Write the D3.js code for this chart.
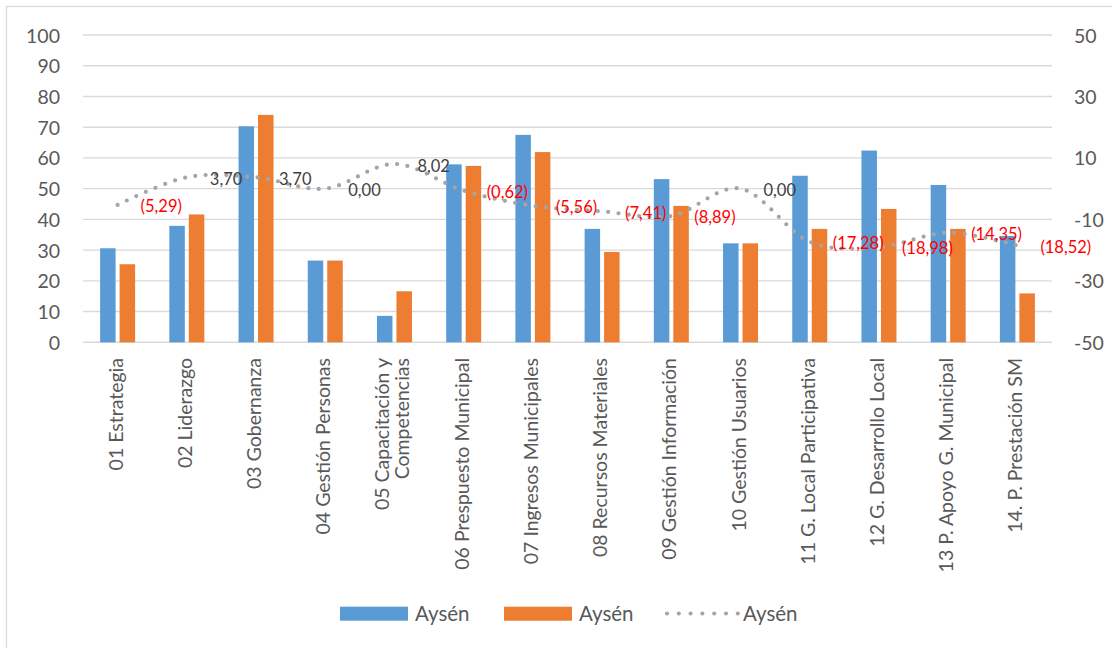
<!DOCTYPE html>
<html>
<head>
<meta charset="utf-8">
<script src="https://cdn.jsdelivr.net/npm/d3@7/dist/d3.min.js"></script>
<style>
  html, body { margin: 0; padding: 0; background: #ffffff; }
  svg { display: block; }
  text { font-family: Lato, "Open Sans", sans-serif; }
</style>
</head>
<body>
<svg id="chart" width="1112" height="648"></svg>
<script>
// Categories (area names) shown along the bottom axis
const categories = [
  "01 Estrategia",
  "02 Liderazgo",
  "03 Gobernanza",
  "04 Gestión Personas",
  "05 Capacitación y\nCompetencias",
  "06 Prespuesto Municipal",
  "07 Ingresos Municipales",
  "08 Recursos Materiales",
  "09 Gestión Información",
  "10 Gestión Usuarios",
  "11 G. Local Participativa",
  "12 G. Desarrollo Local",
  "13 P. Apoyo G. Municipal",
  "14. P. Prestación SM"
];

// First bar series (left axis)
const seriesBlue = [30.6, 37.9, 70.3, 26.6, 8.6, 57.9, 67.5, 36.9, 53.1, 32.2, 54.2, 62.4, 51.2, 34.6];
// Second bar series (left axis)
const seriesOrange = [25.4, 41.6, 74.0, 26.6, 16.6, 57.4, 61.9, 29.4, 44.4, 32.2, 36.9, 43.4, 36.9, 15.9];
// Difference series, drawn as a dotted line (right axis)
const seriesGap = [-5.29, 3.70, 3.70, 0.00, 8.02, -0.62, -5.56, -7.41, -8.89, 0.00, -17.28, -18.98, -14.35, -18.52];

const seriesNames = ["Aysén", "Aysén", "Aysén"];
const leftTicks = [0, 10, 20, 30, 40, 50, 60, 70, 80, 90, 100];
const rightTicks = [-50, -30, -10, 10, 30, 50];

const COLORS = { blue: "#5B9BD5", orange: "#ED7D31", line: "#A5A5A5", grid: "#D9D9D9", text: "#595959", neg: "#FF0000", pos: "#404040" };

const svg = d3.select("#chart");

// chart frame
svg.append("rect")
  .attr("x", 6.5).attr("y", 6.5)
  .attr("width", 1200).attr("height", 1000)
  .attr("fill", "#ffffff")
  .attr("stroke", COLORS.grid).attr("stroke-width", 1.3);

const plot = { left: 83, right: 1052, top: 35, bottom: 342.3 };

const x = d3.scaleBand().domain(categories).range([plot.left, plot.right]).paddingInner(0).paddingOuter(0);
const xSub = d3.scaleBand().domain([0, 1]).range([-17.5, 17.5]).paddingInner(0.205);
const yLeft = d3.scaleLinear().domain([0, 100]).range([plot.bottom, plot.top]);
const yRight = d3.scaleLinear().domain([-50, 50]).range([plot.bottom, plot.top]);
const cx = c => x(c) + x.bandwidth() / 2;

// horizontal gridlines
svg.append("g").selectAll("line").data(leftTicks).join("line")
  .attr("x1", plot.left).attr("x2", plot.right)
  .attr("y1", d => yLeft(d)).attr("y2", d => yLeft(d))
  .attr("stroke", COLORS.grid).attr("stroke-width", 1.4);

// left axis labels
const leftAxis = d3.axisLeft(yLeft).tickValues(leftTicks).tickSize(0).tickPadding(0).tickFormat(d => String(d));
const gLeft = svg.append("g").attr("transform", "translate(60,0)").call(leftAxis);
gLeft.select(".domain").remove();
gLeft.selectAll("text")
  .attr("fill", COLORS.text).attr("font-size", 19.5).attr("font-family", "Lato")
  .attr("dy", null).attr("y", 7);

// right axis labels (plain hyphen for negatives)
const rightAxis = d3.axisRight(yRight).tickValues(rightTicks).tickSize(0).tickPadding(0).tickFormat(d => String(d));
const gRight = svg.append("g").attr("transform", "translate(1074,0)").call(rightAxis);
gRight.select(".domain").remove();
gRight.selectAll("text")
  .attr("fill", COLORS.text).attr("font-size", 19.5).attr("font-family", "Lato")
  .attr("dy", null).attr("y", 7);

// bars
const groups = svg.append("g").selectAll("g").data(categories).join("g")
  .attr("transform", c => `translate(${cx(c)},0)`);
groups.append("rect")
  .attr("x", xSub(0)).attr("width", xSub.bandwidth())
  .attr("y", (c, i) => yLeft(seriesBlue[i]))
  .attr("height", (c, i) => yLeft(0) - yLeft(seriesBlue[i]))
  .attr("fill", COLORS.blue);
groups.append("rect")
  .attr("x", xSub(1)).attr("width", xSub.bandwidth())
  .attr("y", (c, i) => yLeft(seriesOrange[i]))
  .attr("height", (c, i) => yLeft(0) - yLeft(seriesOrange[i]))
  .attr("fill", COLORS.orange);

// category labels, rotated
const catFont = 19.5;
const catG = svg.append("g");
categories.forEach(c => {
  const lines = c.split("\n");
  const t = catG.append("text")
    .attr("transform", `translate(${cx(c)},358) rotate(-90)`)
    .attr("text-anchor", "end")
    .attr("fill", COLORS.text)
    .attr("font-size", catFont);
  const pitch = 20;
  const base = 5 - (lines.length - 1) * pitch / 2;
  lines.forEach((ln, k) => {
    t.append("tspan").attr("x", 0).attr("y", base + k * pitch).text(ln);
  });
});

// dotted smooth line on the right axis
const lineGen = d3.line()
  .x((d, i) => cx(categories[i]))
  .y(d => yRight(d))
  .curve(d3.curveCardinal.tension(0));
svg.append("path")
  .datum(seriesGap)
  .attr("d", lineGen)
  .attr("fill", "none")
  .attr("stroke", COLORS.line)
  .attr("stroke-width", 4.2)
  .attr("stroke-linecap", "round")
  .attr("stroke-dasharray", "0 10.4");

// value labels for the line
const fmtNum = v => Math.abs(v).toFixed(2).replace(".", ",");
svg.append("g").selectAll("text").data(seriesGap).join("text")
  .attr("x", (d, i) => cx(categories[i]) + 23)
  .attr("y", d => yRight(d) + 7.5)
  .attr("font-size", 16.5)
  .attr("fill", d => d < 0 ? COLORS.neg : COLORS.pos)
  .text(d => d < 0 ? `(${fmtNum(d)})` : fmtNum(d));

// legend
const legend = svg.append("g");
const legendItems = [
  { type: "rect", color: COLORS.blue, x: 340, name: seriesNames[0] },
  { type: "rect", color: COLORS.orange, x: 504, name: seriesNames[1] },
  { type: "line", color: COLORS.line, x: 667, name: seriesNames[2] }
];
legendItems.forEach(it => {
  if (it.type === "rect") {
    legend.append("rect").attr("x", it.x).attr("y", 606.7).attr("width", 68).attr("height", 14).attr("fill", it.color);
  } else {
    legend.append("line").attr("x1", it.x).attr("x2", it.x + 71)
      .attr("y1", 613.5).attr("y2", 613.5)
      .attr("stroke", it.color).attr("stroke-width", 4.2)
      .attr("stroke-linecap", "round").attr("stroke-dasharray", "0 11.8");
  }
  legend.append("text")
    .attr("x", it.x + (it.type === "rect" ? 75 : 76))
    .attr("y", 621)
    .attr("font-size", 20.5)
    .attr("fill", COLORS.text)
    .text(it.name);
});
</script>
</body>
</html>
